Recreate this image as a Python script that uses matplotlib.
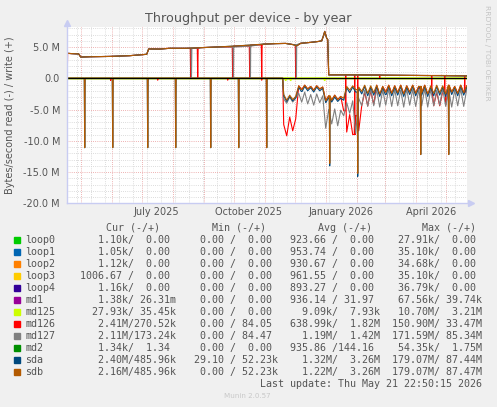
import matplotlib
matplotlib.use("Agg")
import matplotlib.pyplot as plt
import pandas as pd

FIG_W, FIG_H = 497, 407

TITLE = "Throughput per device - by year"
Y_LABEL = "Bytes/second read (-) / write (+)"

DEVICES = ["loop0", "loop1", "loop2", "loop3", "loop4", "md1", "md125",
           "md126", "md127", "md2", "sda", "sdb"]
COLORS = ["#00CC00", "#0066B3", "#FF8000", "#FFCC00", "#330099", "#990099",
          "#CCFF00", "#FF0000", "#808080", "#008F00", "#00487D", "#B35A00"]

# legend table, read / write
CUR = [("1.10k", "0.00"), ("1.05k", "0.00"), ("1.12k", "0.00"), ("1006.67", "0.00"),
       ("1.16k", "0.00"), ("1.38k", "26.31m"), ("27.93k", "35.45k"), ("2.41M", "270.52k"),
       ("2.11M", "173.24k"), ("1.34k", "1.34"), ("2.40M", "485.96k"), ("2.16M", "485.96k")]
MIN = [("0.00", "0.00")] * 7 + [("0.00", "84.05"), ("0.00", "84.47"), ("0.00", "0.00"),
                                ("29.10", "52.23k"), ("0.00", "52.23k")]
AVG = [("923.66", "0.00"), ("953.74", "0.00"), ("930.67", "0.00"), ("961.55", "0.00"),
       ("893.27", "0.00"), ("936.14", "31.97"), ("9.09k", "7.93k"), ("638.99k", "1.82M"),
       ("1.19M", "1.42M"), ("935.86", "144.16"), ("1.32M", "3.26M"), ("1.22M", "3.26M")]
MAX = [("27.91k", "0.00"), ("35.10k", "0.00"), ("34.68k", "0.00"), ("35.10k", "0.00"),
       ("36.79k", "0.00"), ("67.56k", "39.74k"), ("10.70M", "3.21M"), ("150.90M", "33.47M"),
       ("171.59M", "85.34M"), ("54.35k", "1.75M"), ("179.07M", "87.44M"), ("179.07M", "87.47M")]
LAST_UPDATE = "Last update: Thu May 21 22:50:15 2026"

# write level of the disks and arrays, MB/s
WRITE_DATES = ["2025-04-17", "2025-04-22", "2025-04-29", "2025-05-01", "2025-05-10",
               "2025-05-30", "2025-06-19", "2025-07-06", "2025-07-08", "2025-07-19",
               "2025-07-29", "2025-08-14", "2025-08-29", "2025-09-13", "2025-10-01",
               "2025-10-18", "2025-10-31", "2025-11-12", "2025-11-22", "2025-11-29",
               "2025-12-03", "2025-12-07", "2025-12-17", "2025-12-25", "2025-12-28",
               "2025-12-30", "2025-12-31", "2026-01-02", "2026-01-03", "2026-01-04",
               "2026-01-26", "2026-02-25", "2026-04-06", "2026-05-01", "2026-05-23"]
WRITE_LEVEL = [4.0, 3.95, 3.9, 3.4, 3.45, 3.5, 3.62, 3.84, 4.7, 4.68, 4.8, 4.8, 4.9,
               5.0, 5.15, 5.32, 5.47, 5.55, 5.58, 5.4, 5.2, 5.6, 5.75, 5.9, 6.0, 6.9,
               7.5, 6.4, 6.2, 0.55, 0.55, 0.5, 0.45, 0.42, 0.38]

MD126_WRITE_DIPS = ["2025-04-17 12:00", "2025-07-29", "2025-08-19", "2025-08-26",
                    "2025-09-30", "2025-10-17", "2025-10-29", "2025-12-02"]
MD127_WRITE_DIPS = ["2025-08-19 18:00", "2025-09-30 18:00", "2025-10-17 18:00",
                    "2025-12-02 18:00"]
# both read and write of md126 touch zero here
GAP_DATES = ["2026-01-21", "2026-01-30", "2026-02-02", "2026-02-24", "2026-04-17",
             "2026-04-30", "2026-05-20"]

# monthly array check: read spikes on the member disks
SPIKE_DATES = ["2025-05-05", "2025-06-02", "2025-07-07", "2025-08-04", "2025-09-08",
               "2025-10-06", "2025-11-03", "2025-12-08", "2026-01-05", "2026-02-02",
               "2026-03-02", "2026-04-06", "2026-05-04"]
SDB_SPIKE = [11.1, 11.1, 11.1, 11.1, 11.1, 11.1, 11.1, 12.2, 13.6, 15.2, 12.2, 12.2, 12.2]
SDA_SPIKE = [11.1, 11.1, 11.1, 11.1, 11.1, 11.1, 11.1, 12.3, 14.0, 15.7, 12.4, 12.2, 12.2]

# read traffic from late November on, one value every 3 days (MB/s)
NOISE_START = "2025-11-20"
SDB_READ = [2.6, 3.5, 2.7, 3.4, 2.9, 1.2, 1.8, 1.1, 1.7, 1.3, 1.9, 1.2, 1.7, 1.4, 3.6,
            2.8, 3.5, 2.7, 3.4, 2.9, 3.2, 1.3, 1.9, 1.2, 1.8, 1.4, 2.1, 1.1, 2.4, 1.2,
            2.3, 1.1, 2.5, 1.3, 2.2, 1.1, 2.4, 1.2, 2.3, 1.1, 2.5, 1.2, 2.2, 1.1, 2.4,
            1.3, 2.3, 1.1, 2.5, 1.2, 2.4, 1.1, 2.3, 1.2, 2.5, 1.1, 2.2, 1.3, 2.4, 1.1,
            2.3, 1.2]
SDA_READ = [2.8, 3.7, 2.9, 3.6, 3.1, 1.4, 2.1, 1.3, 2.0, 1.5, 2.2, 1.4, 2.0, 1.6, 3.9,
            3.1, 3.8, 3.0, 3.7, 3.2, 3.5, 1.5, 2.3, 1.4, 2.2, 1.6, 2.5, 1.3, 2.8, 1.4,
            2.7, 1.3, 2.9, 1.5, 2.6, 1.3, 2.8, 1.4, 2.7, 1.3, 2.9, 1.4, 2.6, 1.3, 2.8,
            1.5, 2.7, 1.3, 2.9, 1.4, 2.8, 1.3, 2.7, 1.4, 2.9, 1.3, 2.6, 1.5, 2.8, 1.3,
            2.7, 1.4]
MD127_READ = [3.3, 4.0, 3.0, 3.8, 3.2, 2.4, 3.8, 2.2, 4.1, 2.6, 4.3, 2.5, 3.9, 2.8, 8.0,
              5.0, 7.3, 4.9, 7.6, 5.1, 6.0, 3.9, 5.6, 3.6, 8.8, 3.2, 4.4, 1.9, 4.5, 1.7,
              4.4, 1.8, 4.6, 1.9, 4.3, 1.7, 4.5, 1.8, 4.4, 1.9, 4.6, 1.7, 4.3, 1.8, 4.5,
              1.9, 4.4, 1.7, 4.6, 1.8, 4.4, 1.9, 4.3, 1.7, 4.5, 1.8, 4.6, 1.9, 4.4, 1.7,
              4.5, 1.8]
MD126_READ = [7.4, 9.2, 6.2, 8.4, 6.5, 1.2, 1.8, 1.1, 1.7, 1.3, 1.9, 1.2, 1.7, 1.4, 3.6,
              2.8, 3.5, 2.7, 3.4, 2.9, 5.2, 8.6, 5.8, 9.0, 6.0, 8.4, 4.4, 2.2, 4.4, 2.0,
              4.2, 1.1, 2.5, 1.3, 2.2, 1.1, 2.4, 1.2, 2.3, 1.1, 2.5, 1.2, 2.2, 1.1, 2.4,
              1.3, 2.3, 1.1, 2.5, 2.0, 4.4, 2.2, 4.4, 2.1, 4.3, 1.1, 2.2, 1.3, 2.4, 1.1,
              2.3, 1.2]
MD126_BLIP_DATES = ["2025-05-31", "2025-07-07", "2025-07-17", "2025-09-25", "2025-10-29"]
MD126_BLIP = [0.35, 0.3, 0.3, 0.3, 0.3]
MD125_BLIP_DATES = ["2025-11-22", "2025-11-27", "2025-12-31"]
MD125_BLIP = [0.3, 0.3, 0.3]

X_START = pd.Timestamp("2025-04-17 07:00")
X_END = X_START + pd.Timedelta(days=400)
Y_MIN, Y_MAX = -20.0, 8.16
LABEL_DATES = ["2025-07-16", "2025-10-16", "2026-01-16", "2026-04-16"]
LABELS = ["July 2025", "October 2025", "January 2026", "April 2026"]

TEXT = "#555555"
MONO = 7.18  # DejaVu Sans Mono at 6 px per char


def px(x, y):
    return x / FIG_W, 1 - y / FIG_H


def build(dates, values, events=()):
    s = pd.Series(values, index=pd.to_datetime(dates), dtype=float)
    extra = {}
    half = pd.Timedelta(hours=10)
    for d, v in events:
        t = pd.Timestamp(d)
        base = s.asof(t)
        extra[t - half] = base
        extra[t] = v
        extra[t + half] = base
    s = pd.concat([s, pd.Series(extra, dtype=float)]).sort_index()
    return s[~s.index.duplicated(keep="last")]


def read_series(noise, events):
    start = pd.Timestamp(NOISE_START)
    dates = [X_START, start - pd.Timedelta(days=1)]
    dates += list(pd.date_range(start, periods=len(noise), freq="3D"))
    return build(dates, [0.0, 0.0] + noise, events)


def fmt(v):
    if v[-1].isalpha():
        return v[:-1].rjust(6) + v[-1]
    return v.rjust(6) + " "


def main():
    fig = plt.figure(figsize=(FIG_W / 100, FIG_H / 100), dpi=100)
    fig.patch.set_facecolor("#F0F0F0")
    ax = fig.add_axes([67 / FIG_W, 1 - 203.3 / FIG_H, 400 / FIG_W, 176 / FIG_H])
    ax.set_facecolor("white")
    for sp in ax.spines.values():
        sp.set_visible(False)

    # grid
    dots = (0, (0.8, 1.4))
    for d in pd.date_range("2025-04-27", X_END, freq="14D"):
        ax.axvline(d, color="#d4d4d4", lw=0.7, ls=dots, zorder=0.5)
    for d in pd.date_range("2025-05-01", X_END, freq="MS"):
        ax.axvline(d, color="#eaa0a0", lw=0.7, ls=dots, zorder=0.6)
    for v in range(-19, 9):
        if v % 5:
            ax.axhline(v, color="#d4d4d4", lw=0.7, ls=dots, zorder=0.5)
    for v in (-15, -10, -5, 5):
        ax.axhline(v, color="#eaa0a0", lw=0.7, ls=dots, zorder=0.6)

    write = build(WRITE_DATES, WRITE_LEVEL)
    lw = 0.8

    # flat devices, at their yearly average
    for name, color, avg in zip(DEVICES, COLORS, AVG):
        if name in ("md126", "md127", "sda", "sdb"):
            continue
        ax.plot([X_START, X_END], [0, 0], color=color, lw=lw, zorder=1)

    md125 = read_series([0.0] * len(SDB_READ), zip(MD125_BLIP_DATES, MD125_BLIP))
    ax.plot(md125.index, -md125.values, color=COLORS[6], lw=1.4, zorder=1.1)

    md126_r = read_series(MD126_READ, list(zip(MD126_BLIP_DATES, MD126_BLIP))
                          + [(d, 0.0) for d in GAP_DATES])
    md126_w = build(WRITE_DATES, WRITE_LEVEL,
                    [(d, 0.0) for d in MD126_WRITE_DIPS + GAP_DATES])
    ax.plot(md126_r.index, -md126_r.values, color=COLORS[7], lw=lw, zorder=2)
    ax.plot(md126_w.index, md126_w.values, color=COLORS[7], lw=lw, zorder=2)

    md127_r = read_series(MD127_READ, [])
    md127_w = build(WRITE_DATES, WRITE_LEVEL, [(d, 0.0) for d in MD127_WRITE_DIPS])
    ax.plot(md127_r.index, -md127_r.values, color=COLORS[8], lw=lw, zorder=2.1)
    ax.plot(md127_w.index, md127_w.values, color=COLORS[8], lw=lw, zorder=2.1)

    sda_r = read_series(SDA_READ, zip(SPIKE_DATES, SDA_SPIKE))
    ax.plot(sda_r.index, -sda_r.values, color=COLORS[10], lw=lw, zorder=2.2)
    ax.plot(write.index, write.values, color=COLORS[10], lw=lw, zorder=2.2)

    sdb_r = read_series(SDB_READ, zip(SPIKE_DATES, SDB_SPIKE))
    ax.plot(sdb_r.index, -sdb_r.values, color=COLORS[11], lw=lw, zorder=2.3)
    ax.plot(write.index, write.values, color=COLORS[11], lw=lw, zorder=2.3)

    ax.axhline(0, color="black", lw=0.8, zorder=3)

    ax.set_xlim(X_START, X_END)
    ax.set_ylim(Y_MIN, Y_MAX)

    # axes with arrows
    axis_c = "#c8ccf2"
    top = Y_MAX + 0.7
    ax.plot([X_START, X_START], [Y_MIN, top], color=axis_c, lw=1.0, clip_on=False, zorder=4)
    ax.plot([X_START], [top], marker="^", ms=4, color=axis_c, clip_on=False, zorder=4)
    right = X_END + pd.Timedelta(days=4)
    ax.plot([X_START, right], [Y_MIN, Y_MIN], color=axis_c, lw=1.0, clip_on=False, zorder=4)
    ax.plot([right], [Y_MIN], marker=">", ms=4, color=axis_c, clip_on=False, zorder=4)

    yt = [-20, -15, -10, -5, 0, 5]
    ax.set_yticks(yt)
    ax.set_yticklabels(["0.0" if v == 0 else f"{v:.1f} M" for v in yt])
    ax.set_xticks(pd.to_datetime(LABEL_DATES))
    ax.set_xticklabels(LABELS)
    ax.tick_params(axis="y", length=0, pad=5, labelsize=7, labelcolor=TEXT)
    ax.tick_params(axis="x", length=0, pad=2.5, labelsize=7, labelcolor=TEXT)

    fig.text(*px(248.3, 22), TITLE, ha="center", va="baseline", fontsize=9.2, color=TEXT)
    fig.text(*px(10.5, 115.3), Y_LABEL, rotation=90, ha="center", va="center",
             fontsize=7, color=TEXT)
    fig.text(*px(487.5, 5), "RRDTOOL / TOBI OETIKER", rotation=270, ha="center",
             va="top", fontsize=5.4, color="#c4c4c4")

    # legend table
    x0 = 25.5
    for hx, head in zip([106.5, 212.0, 317.5, 422.0], ["Cur (-/+)", "Min (-/+)",
                                                       "Avg (-/+)", "Max (-/+)"]):
        fig.text(*px(hx, 230.9), head, ha="left", va="baseline", family="DejaVu Sans Mono",
                 fontsize=MONO, color=TEXT)
    for i, name in enumerate(DEVICES):
        yc = 239.7 + 12 * i
        fig.patches.append(plt.Rectangle(px(14, yc + 2.9), 5.8 / FIG_W, 5.8 / FIG_H,
                                         transform=fig.transFigure, color=COLORS[i],
                                         figure=fig))
        fig.text(*px(x0, yc + 3.6), name, ha="left", va="baseline",
                 family="DejaVu Sans Mono", fontsize=MONO, color=TEXT)
        for end, pair in zip([25, 42, 59, 76], [CUR[i], MIN[i], AVG[i], MAX[i]]):
            field = fmt(pair[0]) + "/" + fmt(pair[1])
            fig.text(*px(x0 + 6 * (end - len(field)), yc + 3.6), field, ha="left",
                     va="baseline", family="DejaVu Sans Mono", fontsize=MONO, color=TEXT)
    fig.text(*px(x0 + 6 * (76 - len(LAST_UPDATE)), 386.9), LAST_UPDATE, ha="left",
             va="baseline", family="DejaVu Sans Mono", fontsize=MONO, color=TEXT)
    fig.text(*px(247.7, 395.7), "Munin 2.0.57", ha="center", va="center", fontsize=5.1,
             color="#c8c8c8")

    fig.savefig("out.png", dpi=100, facecolor=fig.get_facecolor())


if __name__ == "__main__":
    main()
